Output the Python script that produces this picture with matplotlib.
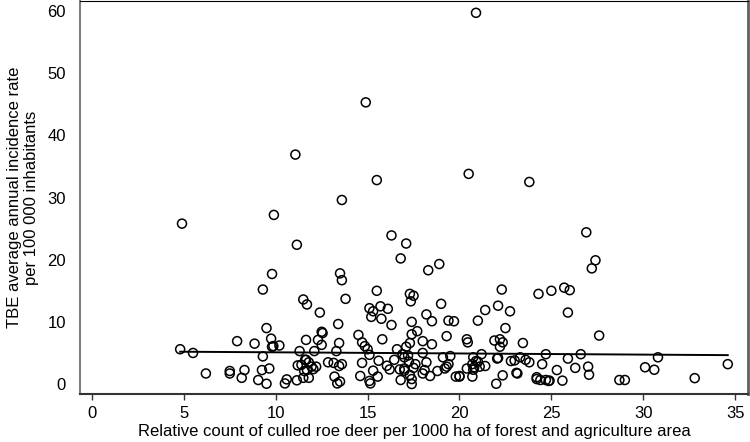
import matplotlib
matplotlib.use('Agg')
import matplotlib.pyplot as plt

# culled roe deer per 1000 ha (x) vs TBE incidence (y)
deer = [
    20.9, 14.9, 11.07, 20.5, 15.5, 23.8, 13.6, 9.9, 4.9, 26.9, 16.3, 17.1, 11.15,
    16.8, 27.4, 18.9, 27.2, 18.3, 9.8, 13.5, 13.6, 9.3, 15.5, 22.3, 25.0, 25.7,
    26.0, 24.3, 17.3, 17.5, 11.5, 13.8, 17.35, 11.7, 19.0, 22.1, 15.1, 15.7, 16.1,
    15.3, 21.4, 22.75, 12.4, 25.9, 18.2, 15.2, 15.75, 17.4, 18.5, 19.4, 19.7, 21.0,
    13.4, 16.3, 9.5, 22.5, 17.7, 12.5, 12.55, 14.5, 17.4, 27.6, 19.3, 9.75, 15.8,
    11.65, 12.3, 20.4, 20.45, 21.9, 22.2, 22.35, 7.9, 8.85, 13.45, 10.2, 9.8, 12.5,
    18.0, 18.5, 17.1, 17.3, 23.45, 14.7, 14.85, 15.0, 22.2, 4.8, 5.5, 11.3, 12.1,
    13.3, 16.6, 18.0, 16.9, 15.1, 9.3, 26.6, 24.7, 21.2, 30.8,
    19.1, 19.5, 20.75, 21.0, 22.05, 23.0, 23.3, 23.6, 23.8, 25.9, 19.4, 19.2, 18.8,
    19.8, 20.0, 20.4, 20.75, 20.8, 21.1, 21.4, 20.7, 22.0, 22.35, 22.8, 23.15, 24.2,
    24.4, 24.5, 24.7, 24.9, 25.3, 25.6, 26.3, 27.0, 27.05, 28.7, 29.0, 30.1, 30.6,
    32.8, 34.6, 6.2, 7.5, 7.5, 8.3, 8.15, 9.05, 9.25, 9.5, 9.65, 10.5, 10.6, 11.15,
    11.5, 11.55, 11.4, 11.6, 11.8, 11.8, 11.95, 12.05, 12.2, 12.85, 13.15, 13.2,
    13.35, 13.5, 13.45, 13.6, 14.6, 14.7, 15.1, 15.15, 15.3, 15.55, 15.6, 16.05,
    16.2, 16.45, 16.75, 16.8, 17.0, 17.0, 17.2, 17.25, 17.3, 17.4, 17.4, 17.5, 17.6,
    18.0, 18.2, 18.4, 18.1, 17.0, 20.9, 20.7, 22.1, 23.1, 24.2, 9.87, 11.2, 11.7,
    11.65, 20.0, 19.3, 24.85,
]
tbe = [
    59.7, 45.3, 36.9, 33.8, 32.8, 32.5, 29.6, 27.2, 25.8, 24.4, 23.9, 22.6, 22.4,
    20.2, 19.9, 19.3, 18.6, 18.3, 17.7, 17.8, 16.7, 15.2, 15.0, 15.2, 15.0, 15.5,
    15.1, 14.5, 14.5, 14.2, 13.6, 13.7, 13.3, 12.8, 12.9, 12.6, 12.2, 12.5, 12.1,
    11.7, 11.9, 11.7, 11.5, 11.5, 11.2, 10.8, 10.5, 10.0, 10.1, 10.2, 10.1, 10.2,
    9.65, 9.5, 9.0, 9.0, 8.5, 8.4, 8.2, 7.9, 8.0, 7.8, 7.7, 7.3, 7.2,
    7.1, 7.1, 7.2, 6.7, 7.0, 7.2, 6.7, 6.9, 6.5, 6.6, 6.2, 6.0, 6.3,
    6.9, 6.4, 6.0, 6.6, 6.6, 6.7, 6.1, 5.6, 6.0, 5.6, 5.0, 5.3, 5.3,
    5.3, 5.6, 5.0, 4.8, 4.7, 4.45, 4.8, 4.8, 4.8, 4.3,
    4.3, 4.5, 4.3, 3.6, 4.1, 3.8, 4.3, 3.9, 3.5, 4.1, 3.2, 2.5, 2.1,
    1.2, 1.3, 2.5, 2.3, 2.7, 2.8, 2.9, 1.2, 0.05, 1.4, 3.7, 1.7, 1.1,
    0.65, 3.2, 0.65, 0.55, 2.25, 0.55, 2.6, 2.8, 1.5, 0.65, 0.65, 2.7, 2.3,
    0.95, 3.2, 1.7, 2.1, 1.7, 2.25, 1.0, 0.65, 2.25, 0.05, 2.5, 0.1, 0.75, 0.6,
    1.0, 2.1, 3.1, 3.9, 3.5, 1.0, 2.8, 2.4, 2.8, 3.5, 3.4, 1.2,
    0.1, 0.4, 2.9, 3.2, 1.3, 3.4, 0.5, 0.1, 2.15, 1.2, 3.75, 2.95,
    2.35, 3.9, 2.35, 0.65, 2.15, 4.3, 4.6, 3.6, 1.45, 0.0, 0.8, 2.6, 3.2,
    1.7, 3.5, 1.3, 2.25, 2.5, 3.7, 3.2, 4.2, 1.8, 0.8, 6.1, 3.0, 2.25,
    3.9, 1.2, 2.8, 0.5,
]

# fitted line end points
fit_x = [4.8, 34.6]
fit_y = [5.2, 4.65]

xticks = [0, 5, 10, 15, 20, 25, 30, 35]
yticks = [0, 10, 20, 30, 40, 50, 60]

plt.rcParams['font.family'] = ['Liberation Sans', 'DejaVu Sans']

fig = plt.figure(figsize=(7.5, 4.42), dpi=100)
ax = fig.add_axes([80 / 750, 1 - 394 / 442, 668 / 750, 393 / 442])

ax.scatter(deer, tbe, s=42, facecolors='none', edgecolors='black', linewidths=1.1, zorder=3)
ax.plot(fit_x, fit_y, color='black', linewidth=1.4, zorder=2)

ax.set_xlim(-0.65, 35.7)
ax.set_ylim(-1.6, 61.6)
ax.set_xticks(xticks)
ax.set_yticks(yticks)

ax.tick_params(axis='x', direction='out', length=4.5, width=1, pad=4.5, labelsize=12, color='#333333')
ax.tick_params(axis='y', length=0, pad=10, labelsize=12)

ax.spines['left'].set_color('#808080')
ax.spines['left'].set_linewidth(1.5)
ax.spines['top'].set_color('black')
ax.spines['top'].set_linewidth(0.8)
ax.spines['right'].set_color('#606060')
ax.spines['right'].set_linewidth(2)
ax.spines['bottom'].set_color('#333333')
ax.spines['bottom'].set_linewidth(1.5)

ax.set_xlabel('Relative count of culled roe deer per 1000 ha of forest and agriculture area',
              fontsize=12, labelpad=2)
ax.set_ylabel('TBE average annual incidence rate\nper 100 000 inhabitants', fontsize=12,
              labelpad=6, linespacing=1.15)

fig.savefig('out.png', dpi=100)
